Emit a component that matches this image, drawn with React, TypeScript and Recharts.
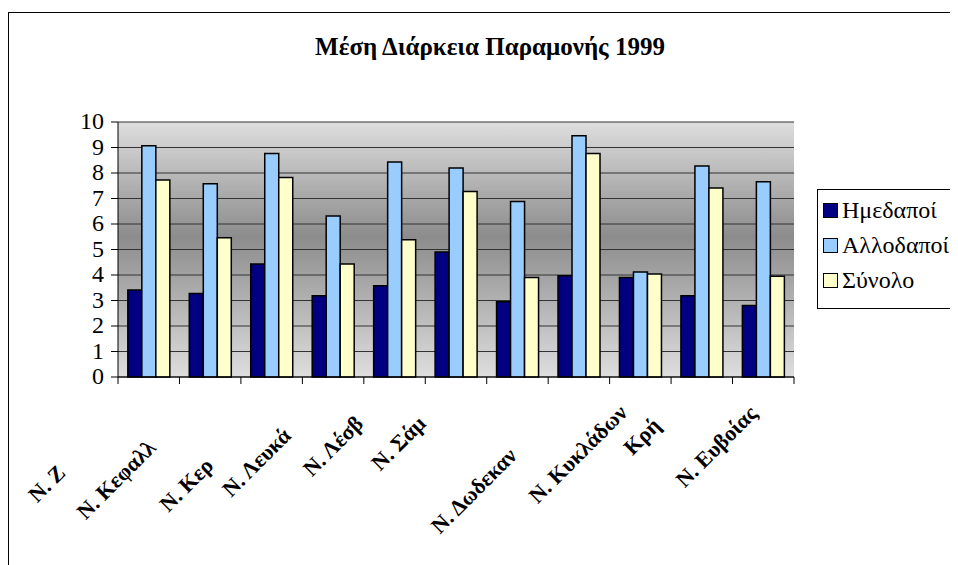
import React from 'react';
import { BarChart, Bar, XAxis, YAxis, CartesianGrid } from 'recharts';

const categories = [
  'Ν. Ζακύνθου',
  'Ν. Κεφαλληνίας',
  'Ν. Κερκύρας',
  'Ν. Λευκάδας',
  'Ν. Λέσβου',
  'Ν. Σάμου',
  'Ν. Χίου',
  'Ν. Δωδεκανήσου',
  'Ν. Κυκλάδων',
  'Ν. Κρήτης',
  'Ν. Ευβοίας',
];

// what is actually readable under each group (the labels are clipped in the original)
const tickText = ['Ν. Ζ', 'Ν. Κεφαλλ', 'Ν. Κερ', 'Ν. Λευκά', 'Ν. Λέσβ', 'Ν. Σάμ', '', 'Ν. Δωδεκαν', 'Ν. Κυκλάδων', 'Κρή', 'Ν. Ευβοίας'];

const natives = [3.41, 3.27, 4.43, 3.19, 3.58, 4.9, 2.95, 3.97, 3.9, 3.19, 2.8];
const foreigners = [9.07, 7.58, 8.76, 6.31, 8.43, 8.2, 6.88, 9.46, 4.12, 8.27, 7.66];
const totals = [7.73, 5.46, 7.82, 4.43, 5.38, 7.27, 3.9, 8.76, 4.04, 7.41, 3.95];

const yTicks = [0, 1, 2, 3, 4, 5, 6, 7, 8, 9, 10];

const series = [
  { key: 'natives', name: 'Ημεδαποί', color: '#000080' },
  { key: 'foreigners', name: 'Αλλοδαποί', color: '#99ccff' },
  { key: 'totals', name: 'Σύνολο', color: '#ffffcc' },
];

const data = categories.map((name, i) => ({
  name,
  natives: natives[i],
  foreigners: foreigners[i],
  totals: totals[i],
}));

const W = 950;
const H = 557;
const margin = { top: 114, right: 164, bottom: 68, left: 70 };
const BAND = (W - margin.left - 40 - margin.right) / categories.length;

// where each rotated label ends, relative to its tick (garbled Excel layout)
const labelShift: [number, number][] = [
  [-82, 97], [-53, 72], [-57, 90], [-41, 60], [-30, 48], [-29, 48],
  [0, 0], [-61, 80], [-12, 37], [-40, 50], [-5, 38],
];

const serif = "'Liberation Serif', 'Times New Roman', 'DejaVu Serif', serif";

function CategoryTick(props: any) {
  const { x, y, index } = props;
  const [dx, dy] = labelShift[index] || [0, 0];
  const half = BAND / 2;
  const lx = x + dx;
  const ly = y + dy;
  return (
    <g>
      <line x1={x - half} x2={x - half} y1={y} y2={y + 7} stroke="#000" />
      {index === categories.length - 1 && (
        <line x1={x + half} x2={x + half} y1={y} y2={y + 7} stroke="#000" />
      )}
      <text
        x={lx}
        y={ly}
        textAnchor="end"
        transform={`rotate(-45 ${lx} ${ly})`}
        style={{ fontFamily: serif }}
        fontWeight="bold"
        fontSize={22}
        fill="#000"
      >
        {tickText[index]}
      </text>
    </g>
  );
}

function ValueTick(props: any) {
  const { x, y, payload } = props;
  return (
    <text x={x} y={y} dy={7} textAnchor="end" style={{ fontFamily: serif }} fontSize={24} fill="#000">
      {payload.value}
    </text>
  );
}

export default function App() {
  return (
    <div style={{ position: 'relative', width: W, height: H, overflow: 'hidden', background: '#fff' }}>
      <div
        style={{
          position: 'absolute',
          left: 0,
          top: 4,
          width: 1200,
          height: 1200,
          border: '1px solid #000',
        }}
      />
      <div
        style={{
          position: 'absolute',
          left: 0,
          top: 26,
          width: 964,
          textAlign: 'center',
          fontFamily: serif,
          fontWeight: 'bold',
          fontSize: 25,
          lineHeight: '25px',
        }}
      >
        Μέση Διάρκεια Παραμονής 1999
      </div>
      <div style={{ position: 'absolute', left: 0, top: 0 }}>
        <BarChart width={W} height={H} data={data} margin={margin} barCategoryGap="16%" barGap={0}>
          <defs>
            <linearGradient id="plotBg" x1="0" y1="0" x2="0" y2="1">
              <stop offset="0%" stopColor="#dedede" />
              <stop offset="45%" stopColor="#8c8c8c" />
              <stop offset="100%" stopColor="#dedede" />
            </linearGradient>
          </defs>
          <CartesianGrid vertical={false} stroke="#333" fill="url(#plotBg)" fillOpacity={1} />
          <XAxis
            dataKey="name"
            interval={0}
            height={120}
            tickSize={0}
            tickMargin={0}
            tickLine={false}
            axisLine={{ stroke: '#000' }}
            tick={<CategoryTick />}
          />
          <YAxis
            domain={[0, 10]}
            ticks={yTicks}
            interval={0}
            width={40}
            tickSize={7}
            tickMargin={7}
            axisLine={{ stroke: '#000' }}
            tickLine={{ stroke: '#000' }}
            tick={<ValueTick />}
          />
          <YAxis
            yAxisId="right"
            orientation="right"
            domain={[0, 10]}
            width={0}
            tick={false}
            tickLine={false}
            axisLine={{ stroke: '#808080' }}
          />
          {series.map((s) => (
            <Bar
              key={s.key}
              dataKey={s.key}
              name={s.name}
              fill={s.color}
              stroke="#000"
              strokeWidth={1.5}
              isAnimationActive={false}
            />
          ))}
        </BarChart>
      </div>
      <div
        style={{
          position: 'absolute',
          left: 809,
          top: 181,
          width: 141,
          height: 120,
          border: '1px solid #000',
          background: '#fff',
          paddingTop: 3,
          boxSizing: 'border-box',
          fontFamily: serif,
          fontSize: 24,
        }}
      >
        {series.map((s) => (
          <div key={s.key} style={{ height: 35, display: 'flex', alignItems: 'center' }}>
            <span
              style={{
                display: 'inline-block',
                width: 13,
                height: 13,
                marginLeft: 5,
                marginRight: 4,
                background: s.color,
                border: '1.5px solid #000',
              }}
            />
            <span>{s.name}</span>
          </div>
        ))}
      </div>
    </div>
  );
}
